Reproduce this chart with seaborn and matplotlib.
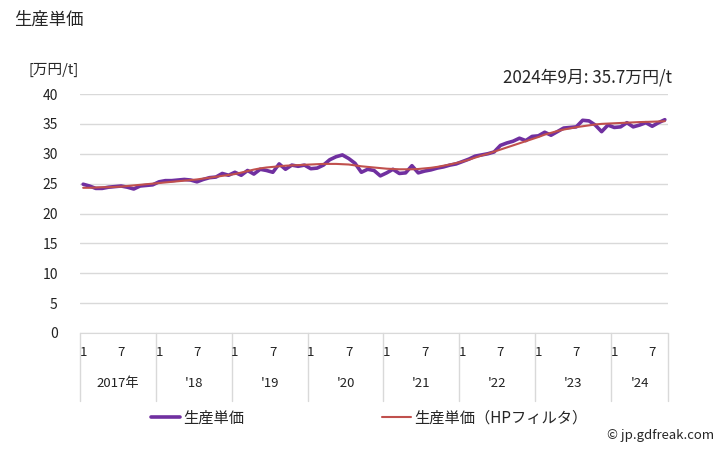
import numpy as np
import pandas as pd
import matplotlib
matplotlib.use("Agg")
import matplotlib.pyplot as plt
import matplotlib.transforms as mtransforms
from matplotlib.lines import Line2D
import seaborn as sns

# monthly unit price, Jan 2017 - Sep 2024 (万円/t)
price_2017 = [24.9, 24.6, 24.2, 24.2, 24.4, 24.5, 24.6, 24.4, 24.1, 24.6, 24.7, 24.8]
price_2018 = [25.3, 25.5, 25.5, 25.6, 25.7, 25.6, 25.3, 25.7, 26.0, 26.1, 26.7, 26.4]
price_2019 = [26.9, 26.4, 27.2, 26.6, 27.4, 27.2, 26.9, 28.3, 27.4, 28.1, 27.9, 28.1]
price_2020 = [27.5, 27.6, 28.1, 29.0, 29.5, 29.8, 29.2, 28.4, 26.9, 27.4, 27.2, 26.3]
price_2021 = [26.8, 27.4, 26.7, 26.8, 28.0, 26.8, 27.1, 27.3, 27.6, 27.8, 28.1, 28.3]
price_2022 = [28.7, 29.1, 29.6, 29.8, 30.0, 30.3, 31.4, 31.8, 32.1, 32.6, 32.2, 32.9]
price_2023 = [33.0, 33.6, 33.1, 33.7, 34.3, 34.4, 34.5, 35.6, 35.5, 34.8, 33.7, 34.8]
price_2024 = [34.4, 34.5, 35.2, 34.5, 34.8, 35.2, 34.6, 35.2, 35.7]

# HP filter trend
hp_2017 = [24.3, 24.3, 24.35, 24.4, 24.4, 24.45, 24.5, 24.6, 24.7, 24.8, 24.9, 25.0]
hp_2018 = [25.1, 25.2, 25.3, 25.4, 25.5, 25.6, 25.7, 25.85, 26.0, 26.15, 26.3, 26.45]
hp_2019 = [26.6, 26.85, 27.1, 27.35, 27.55, 27.7, 27.8, 27.9, 28.0, 28.05, 28.1, 28.15]
hp_2020 = [28.2, 28.25, 28.3, 28.3, 28.3, 28.25, 28.2, 28.05, 27.9, 27.8, 27.7, 27.6]
hp_2021 = [27.5, 27.45, 27.4, 27.4, 27.4, 27.45, 27.55, 27.65, 27.8, 28.0, 28.2, 28.45]
hp_2022 = [28.7, 29.0, 29.35, 29.7, 30.0, 30.35, 30.7, 31.05, 31.4, 31.75, 32.1, 32.45]
hp_2023 = [32.8, 33.2, 33.5, 33.8, 34.05, 34.25, 34.45, 34.6, 34.75, 34.9, 35.0, 35.05]
hp_2024 = [35.1, 35.15, 35.2, 35.25, 35.3, 35.33, 35.36, 35.4, 35.45]

year_labels = ["2017年", "'18", "'19", "'20", "'21", "'22", "'23", "'24"]
month_ticks = [1, 7]

price = (price_2017 + price_2018 + price_2019 + price_2020 + price_2021
         + price_2022 + price_2023 + price_2024)
hp = hp_2017 + hp_2018 + hp_2019 + hp_2020 + hp_2021 + hp_2022 + hp_2023 + hp_2024
year_lengths = [12, 12, 12, 12, 12, 12, 12, 9]

months = []
for n in year_lengths:
    months += list(range(1, n + 1))
df = pd.DataFrame({"idx": np.arange(len(price)), "month": months,
                   "生産単価": price, "生産単価（HPフィルタ）": hp})

sns.set_style("white")
plt.rcParams['font.family'] = ['Noto Sans CJK JP', 'DejaVu Sans']

fig = plt.figure(figsize=(7.28, 4.5), dpi=100)
ax = fig.add_axes([80 / 728, 1 - 333 / 450, (668 - 80) / 728, (333 - 94) / 450])

purple = "#7030A0"
red = "#C0504D"
sns.lineplot(data=df, x="idx", y="生産単価", ax=ax, color=purple, lw=2.6)
sns.lineplot(data=df, x="idx", y="生産単価（HPフィルタ）", ax=ax, color=red, lw=1.5)

ax.set_xlim(-0.5, len(price) - 0.5)
ax.set_ylim(0, 40)
ax.set_yticks(range(0, 41, 5))
ax.yaxis.grid(True, color="#D9D9D9", lw=1)
ax.set_axisbelow(True)
for s in ["left", "right", "top"]:
    ax.spines[s].set_visible(False)
ax.spines["bottom"].set_color("#D9D9D9")
ax.tick_params(axis="y", length=0, pad=16, labelsize=10, labelcolor="#222222")
ax.set_xticks([])
ax.set_xlabel("")
ax.set_ylabel("")

# multi-level category axis
trans = mtransforms.blended_transform_factory(ax.transData, ax.transAxes)
start = 0
for lab, n in zip(year_labels, year_lengths):
    for m in month_ticks:
        if m <= n:
            ax.text(start + m - 1, -0.08, str(m), transform=trans, ha="center",
                    va="center", fontsize=9.5, color="#222222")
    ax.text(start + (n - 1) / 2, -0.21, lab, transform=trans, ha="center",
            va="center", fontsize=9.5, color="#222222")
    ax.add_line(Line2D([start - 0.5, start - 0.5], [0, -0.285], transform=trans,
                       color="#D9D9D9", lw=1, clip_on=False))
    start += n
ax.add_line(Line2D([start - 0.5, start - 0.5], [0, -0.285], transform=trans,
                   color="#D9D9D9", lw=1, clip_on=False))

fig.text(14 / 728, 1 - 20 / 450, "生産単価", fontsize=12.5, va="center", ha="left")
fig.text(28 / 728, 1 - 70 / 450, "[万円/t]", fontsize=10.5, va="center", ha="left")
fig.text(672 / 728, 1 - 78 / 450, "2024年9月: 35.7万円/t", fontsize=12.2,
         va="center", ha="right")
fig.text(714 / 728, 1 - 435 / 450, "© jp.gdfreak.com", fontsize=9.5,
         va="center", ha="right")

handles = [Line2D([], [], color=purple, lw=2.6), Line2D([], [], color=red, lw=1.5)]
if ax.get_legend():
    ax.get_legend().remove()
fig.legend(handles, ["生産単価", "生産単価（HPフィルタ）"], loc="center",
           bbox_to_anchor=(369 / 728, 1 - 418 / 450), ncol=2, frameon=False,
           fontsize=11, handlelength=1.9, handletextpad=0.2, columnspacing=9.0)

plt.savefig("out.png", dpi=100)
plt.close()
